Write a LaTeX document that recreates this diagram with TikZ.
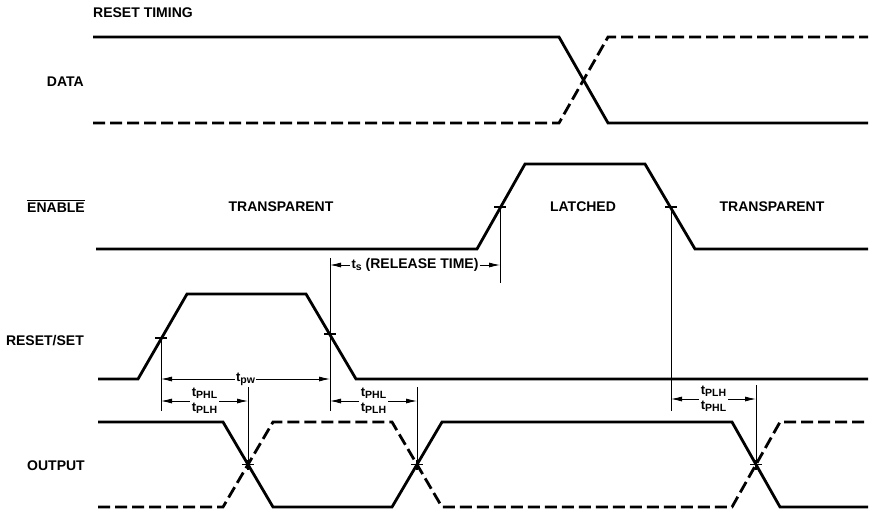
\documentclass[tikz,border=0pt]{standalone}
\usepackage{fontspec}
\setmainfont{Liberation Sans}
\usetikzlibrary{arrows.meta}
\newcommand{\tsub}[1]{{\fontsize{13}{13}\selectfont t}\raisebox{-1.8pt}{\fontsize{10.5}{10.5}\selectfont #1}}
\begin{document}
\begin{tikzpicture}[x=1pt,y=-1pt,
  sig/.style={line width=2.8pt, line join=miter},
  dsig/.style={sig, dash pattern=on 12pt off 5pt},
  dim/.style={line width=0.8pt},
  arr/.style={dim, {Latex[length=11pt,width=5pt]}-{Latex[length=11pt,width=5pt]}},
  lbl/.style={font=\bfseries\fontsize{14}{16}\selectfont, inner sep=0pt},
  dlbl/.style={font=\bfseries\fontsize{13}{15}\selectfont, inner sep=1.5pt, fill=white, align=center},
  tick/.style={line width=1.2pt}]
\useasboundingbox (0,0) rectangle (870,512);
% labels
\node[lbl, anchor=west] (title) at (93,13) {RESET TIMING};
\node[lbl, anchor=east] (ldata) at (84,82) {DATA};
\node[lbl, anchor=east] (len) at (85,208) {ENABLE};
\draw[line width=1pt] ([yshift=2pt]len.north west) -- ([yshift=2pt]len.north east);
\node[lbl, anchor=east] (lrs) at (84,341) {RESET/SET};
\node[lbl, anchor=east] (lout) at (85,466) {OUTPUT};
\node[lbl] (tr1) at (281,207) {TRANSPARENT};
\node[lbl] (lat) at (583,207) {LATCHED};
\node[lbl] (tr2) at (772,207) {TRANSPARENT};
% DATA
\draw[sig] (93,37) -- (559,37) -- (608,123) -- (868,123);
\draw[dsig] (93,123) -- (559,123) -- (608,37) -- (868,37);
% ENABLE
\draw[sig] (96,249) -- (477,249) -- (525,164) -- (645,164) -- (695,249) -- (868,249);
% RESET/SET
\draw[sig] (98,379) -- (138,379) -- (187,294) -- (306,294) -- (356,379) -- (868,379);
% OUTPUT
\draw[sig] (98,422) -- (223,422) -- (273,507) -- (392,507) -- (442,422) -- (732,422) -- (780,507) -- (868,507);
\draw[dsig] (98,507) -- (223,507) -- (273,422) -- (392,422) -- (442,507) -- (732,507) -- (780,422) -- (868,422);
% cross points
\coordinate (ce1) at (500,207);
\coordinate (ce2) at (671,207);
\coordinate (cr1) at (161,338);
\coordinate (cr2) at (330,334);
\coordinate (co1) at (248,464.5);
\coordinate (co2) at (417,464.5);
\coordinate (co3) at (756,464.5);
\foreach \c in {ce1,ce2,cr1,cr2,co1,co2,co3}
  \draw[tick] ([xshift=-6pt]\c) -- ([xshift=6pt]\c);
\foreach \c in {co1,co2,co3}
  \draw[tick] ([yshift=-5pt]\c) -- ([yshift=5pt]\c);
% vertical reference lines
\coordinate (vr1) at (161,411);
\coordinate (vr2t) at (330,258);
\coordinate (vr2) at (330,411);
\coordinate (vo1) at (248,387);
\coordinate (vo2) at (417,387);
\coordinate (ve1) at (500,283);
\coordinate (ve2) at (671,411);
\coordinate (vo3) at (756,385);
\draw[dim] (cr1) -- (vr1);
\draw[dim] (vr2t) -- (vr2);
\draw[dim] (vo1) -- (co1);
\draw[dim] (vo2) -- (co2);
\draw[dim] (ce1) -- (ve1);
\draw[dim] (ce2) -- (ve2);
\draw[dim] (vo3) -- (co3);
% dimension arrows
\coordinate (a1) at (161,379); \coordinate (a2) at (330,379);
\draw[arr] (a1) -- node[dlbl] (tpw) {\tsub{pw}} (a2);
\coordinate (b1) at (330,265); \coordinate (b2) at (500,265);
\draw[arr] (b1) -- node[dlbl, font=\bfseries\fontsize{14}{16}\selectfont] (ts) {\tsub{s} (RELEASE TIME)} (b2);
\coordinate (c1) at (161,401); \coordinate (c2) at (248,401);
\draw[arr] (c1) -- node[dlbl] (d1) {\tsub{PHL}\\\tsub{PLH}} (c2);
\coordinate (e1) at (330,401); \coordinate (e2) at (417,401);
\draw[arr] (e1) -- node[dlbl] (d2) {\tsub{PHL}\\\tsub{PLH}} (e2);
\coordinate (f1) at (671,399); \coordinate (f2) at (756,399);
\draw[arr] (f1) -- node[dlbl] (d3) {\tsub{PLH}\\\tsub{PHL}} (f2);
\end{tikzpicture}
\end{document}
